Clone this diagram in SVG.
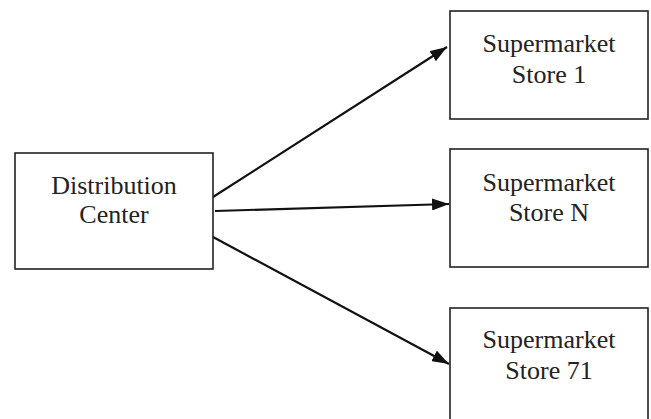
<svg xmlns="http://www.w3.org/2000/svg" width="651" height="419" viewBox="0 0 651 419">
<style>
.box{fill:#fff;stroke:#222;stroke-width:1.6}
.t{font-family:"Liberation Serif","Times New Roman",serif;font-size:26px;fill:#222;text-anchor:middle}
.c{stroke:#111;stroke-width:2.2;fill:none;marker-end:url(#ah)}
</style>
<defs>
<marker id="ah" markerUnits="userSpaceOnUse" markerWidth="18" markerHeight="12" refX="17" refY="6" orient="auto">
<path d="M0,0 L17,6 L0,12 Z" fill="#111"/>
</marker>
</defs>
<rect width="651" height="419" fill="#fff"/>
<g id="connectors">
<line class="c" x1="213" y1="197" x2="447" y2="47"/>
<line class="c" x1="215" y1="211" x2="449" y2="204"/>
<line class="c" x1="213" y1="237" x2="449" y2="364"/>
</g>
<g id="dc">
<rect class="box" x="15" y="153" width="198" height="116"/>
<text class="t" x="114" y="194">Distribution</text>
<text class="t" x="114" y="223">Center</text>
</g>
<g id="store1">
<rect class="box" x="450" y="11" width="198" height="108"/>
<text class="t" x="549" y="52">Supermarket</text>
<text class="t" x="549" y="83">Store 1</text>
</g>
<g id="storeN">
<rect class="box" x="450" y="149" width="198" height="118"/>
<text class="t" x="549" y="191">Supermarket</text>
<text class="t" x="549" y="221">Store N</text>
</g>
<g id="store71">
<rect class="box" x="450" y="308" width="198" height="120"/>
<text class="t" x="549" y="348">Supermarket</text>
<text class="t" x="549" y="379">Store 71</text>
</g>
</svg>
